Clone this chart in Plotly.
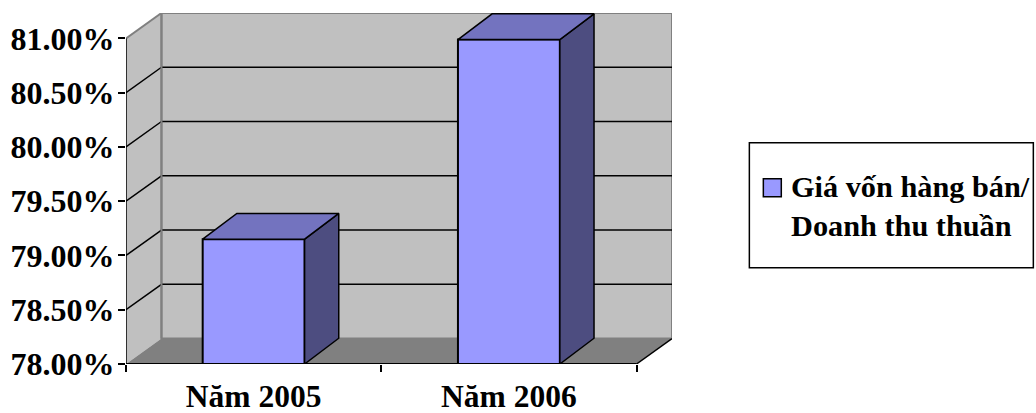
import plotly.graph_objects as go

categories = ["Năm 2005", "Năm 2006"]
values = [79.15, 80.99]
y_ticks = [78.0, 78.5, 79.0, 79.5, 80.0, 80.5, 81.0]
y_labels = ["78.00%", "78.50%", "79.00%", "79.50%", "80.00%", "80.50%", "81.00%"]
series_name = "Giá vốn hàng bán/<br>Doanh thu thuần"

W, H = 1036, 413
L, R, T, B = 125.5, 363.5, 13, 48.5
PW, PH = W - L - R, H - T - B
FONT = "Liberation Serif"
FS = 32
BAR, SIDE, TOP = "#9999FF", "#4D4D80", "#7373BF"
WALL, FLOOR, EDGE = "#C0C0C0", "#808080", "#808080"

x_per_px = 2 / 511
y_per_px = 3 / 326
DX, DY = 35.5 * x_per_px, 25.5 * y_per_px
BDX, BDY = 34.2 * x_per_px, 25.8 * y_per_px
BW = 102 * x_per_px
Y0 = y_ticks[0]
Y1 = y_ticks[-1]
XMAX = len(categories)
xpos = [i + 0.5 for i in range(len(categories))]


def px(x):
    return (x - L) / PW


def py(y):
    return 1 - (y - T) / PH


def poly(pts):
    return "M" + " L".join(f"{a},{b}" for a, b in pts) + " Z"


shapes = []
# walls and floor
shapes.append(dict(type="path", path=poly([(0, Y0), (DX, Y0 + DY), (DX, Y1 + DY), (0, Y1)]),
                   fillcolor=WALL, line=dict(width=0), layer="below"))
shapes.append(dict(type="path", path=poly([(DX, Y0 + DY), (XMAX + DX, Y0 + DY), (XMAX + DX, Y1 + DY), (DX, Y1 + DY)]),
                   fillcolor=WALL, line=dict(color=EDGE, width=2), layer="below"))
shapes.append(dict(type="path", path=poly([(0, Y0), (XMAX, Y0), (XMAX + DX, Y0 + DY), (DX, Y0 + DY)]),
                   fillcolor=FLOOR, line=dict(width=0), layer="below"))
# gridlines
for v in y_ticks[1:-1]:
    shapes.append(dict(type="line", x0=0, y0=v, x1=DX, y1=v + DY, line=dict(color="black", width=1.5), layer="below"))
    shapes.append(dict(type="line", x0=DX, y0=v + DY, x1=XMAX + DX, y1=v + DY, line=dict(color="black", width=1.5), layer="below"))
shapes.append(dict(type="line", x0=0, y0=Y1, x1=DX, y1=Y1 + DY, line=dict(color=EDGE, width=2), layer="below"))
shapes.append(dict(type="line", x0=DX, y0=Y0 + DY, x1=DX, y1=Y1 + DY, line=dict(color=EDGE, width=2), layer="below"))
# axis lines
shapes.append(dict(type="line", x0=0, y0=Y0, x1=0, y1=Y1, line=dict(color="black", width=1.5), layer="above"))
shapes.append(dict(type="line", x0=0, y0=Y0, x1=XMAX, y1=Y0, line=dict(color="black", width=2), layer="above"))
shapes.append(dict(type="line", x0=XMAX, y0=Y0, x1=XMAX + DX, y1=Y0 + DY, line=dict(color="black", width=1.5), layer="above"))
# legend box and swatch
shapes.append(dict(type="rect", xref="paper", yref="paper", x0=px(750), x1=px(1034.5), y0=py(143), y1=py(268),
                   fillcolor="white", line=dict(color="black", width=1.5)))
shapes.append(dict(type="rect", xref="paper", yref="paper", x0=px(764), x1=px(782), y0=py(179), y1=py(197),
                   fillcolor=BAR, line=dict(color="black", width=1.5)))

fig = go.Figure()
fig.add_trace(go.Bar(x=xpos, y=values, width=BW, marker=dict(color=BAR, line=dict(color="black", width=2)),
                     name="Giá vốn hàng bán/ Doanh thu thuần", showlegend=False, cliponaxis=False))
for xc, v in zip(xpos, values):
    a, b = xc - BW / 2, xc + BW / 2
    fig.add_trace(go.Scatter(x=[b, b + BDX, b + BDX, b, b], y=[Y0, Y0 + BDY, v + BDY, v, Y0],
                             mode="lines", fill="toself", fillcolor=SIDE, line=dict(color="black", width=1.5),
                             showlegend=False, hoverinfo="skip", cliponaxis=False))
    fig.add_trace(go.Scatter(x=[a, b, b + BDX, a + BDX, a], y=[v, v, v + BDY, v + BDY, v],
                             mode="lines", fill="toself", fillcolor=TOP, line=dict(color="black", width=1.5),
                             showlegend=False, hoverinfo="skip", cliponaxis=False))

fig.update_layout(
    width=W, height=H, autosize=False,
    margin=dict(l=L, r=R, t=T, b=B, pad=0, autoexpand=False),
    paper_bgcolor="white", plot_bgcolor="white",
    font=dict(family=FONT, size=FS, color="black"),
    showlegend=False, shapes=shapes,
    xaxis=dict(range=[0, XMAX + DX], tickmode="array", tickvals=xpos, ticktext=categories,
               automargin=False,
               showgrid=False, zeroline=False, showline=False, ticks="", ticklabelstandoff=10,
               tickfont=dict(family=FONT, size=31.5, weight="bold"),
               minor=dict(tickmode="array", tickvals=[0, 1, 2], ticks="outside", ticklen=7, tickwidth=1.5,
                          tickcolor="black", showgrid=False)),
    yaxis=dict(range=[Y0, Y1 + DY], tickmode="array", tickvals=y_ticks, ticktext=y_labels,
               automargin=False, ticklabelstandoff=-3,
               showgrid=False, zeroline=False, showline=False, ticks="outside", ticklen=7, tickwidth=1.5,
               tickcolor="black", tickfont=dict(family=FONT, size=FS, weight="bold")),
    annotations=[dict(xref="paper", yref="paper", x=px(790), y=py(207), xanchor="left", yanchor="middle",
                      align="left", showarrow=False, text=f"<b>{series_name}</b>",
                      font=dict(family=FONT, size=30.3, color="black"))],
)
fig.write_html("out.html", config={"displayModeBar": False},
               post_script="document.body.style.margin='0';document.body.style.overflow='hidden';")
